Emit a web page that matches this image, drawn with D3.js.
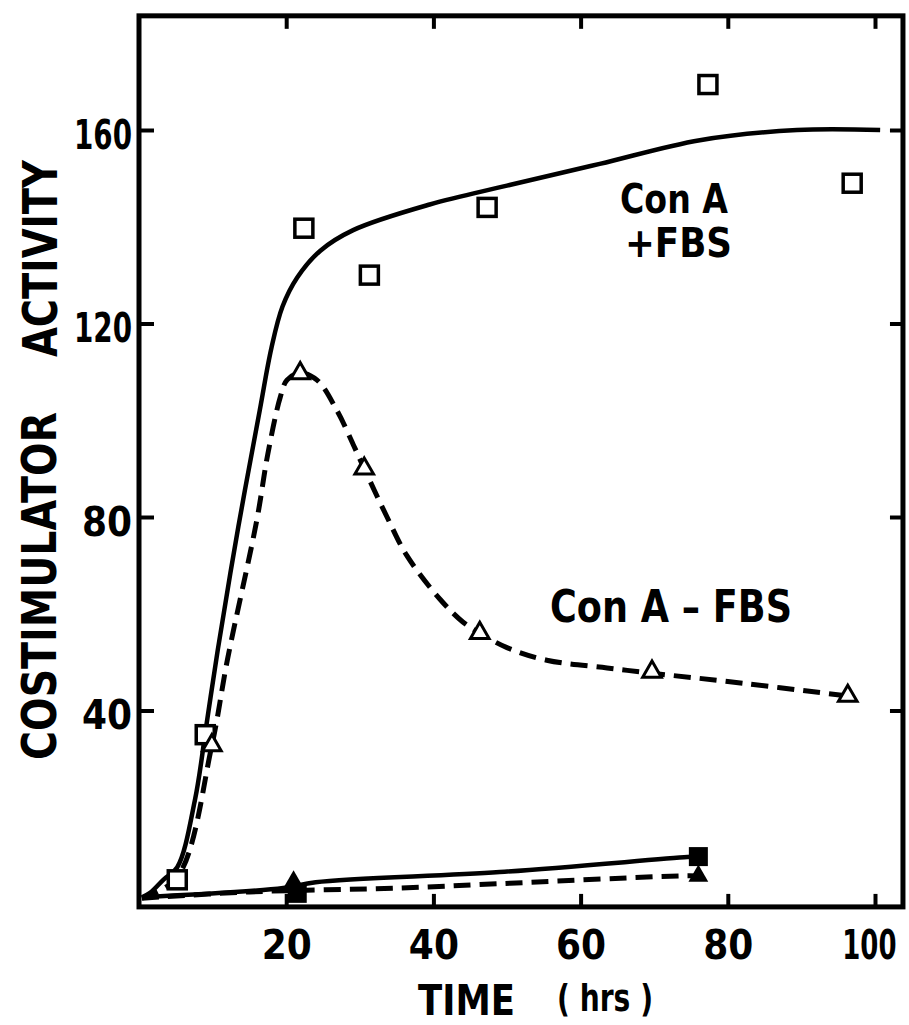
<!DOCTYPE html>
<html>
<head>
<meta charset="utf-8">
<script src="https://cdn.jsdelivr.net/npm/d3@7"></script>
<style>
  html, body { margin: 0; padding: 0; background: #fff; }
  svg { display: block; }
  text { font-family: "DejaVu Sans", "Liberation Sans", sans-serif; fill: #000; }
</style>
</head>
<body>
<svg id="chart" width="909" height="1025"></svg>
<script>
// ---- data ----
const xTicks = [20, 40, 60, 80, 100];
const yTicks = [40, 80, 120, 160];

// Con A + FBS : open squares
const plusFBS_x = [5.2, 9, 22.4, 31.3, 47.3, 77.3, 96.9];
const plusFBS_y = [5, 35, 139.7, 130, 144, 169.4, 149];

// Con A - FBS : open triangles
const minusFBS_x = [9.9, 21.9, 30.6, 46.3, 69.7, 96.3];
const minusFBS_y = [32.8, 109.7, 90, 56, 48, 43];

// controls : filled squares / filled triangles
const ctrlSq_x = [21.5, 76];
const ctrlSq_y = [2.2, 9.8];
const ctrlTri_x = [21, 76];
const ctrlTri_y = [4.6, 5.8];

// hand-drawn fitted curves
const curvePlus_x = [0.4, 1.5, 3.3, 5.2, 7.6, 9.2, 10.7, 13.5, 16.4, 18, 19.5, 21.5, 24.6, 29.1, 39.5, 50, 62.6, 76.2, 89.4, 100.7];
const curvePlus_y = [1.4, 2.3, 5, 7.6, 21.5, 37.4, 52.5, 78, 102, 115, 123.5, 129.5, 135, 139.3, 144.6, 148.5, 153, 157.9, 160, 160];

const curveMinus_x = [0.4, 5.2, 9.9, 12, 16, 17.5, 19.2, 20.1, 21.9, 24.2, 26.9, 29.1, 30.6, 33.7, 36.4, 40.9, 44, 46.3, 50, 55.4, 63.6, 69.7, 80, 96.3];
const curveMinus_y = [1.2, 5.5, 32.8, 50.4, 79.3, 93, 104.8, 108.3, 109.8, 108.3, 102, 95, 90, 80, 72, 63, 58.3, 56, 53, 50.4, 48.8, 47.7, 46, 43];

const ctrlLineSolid_x = [0.4, 19.6, 24, 49, 74.5, 76];
const ctrlLineSolid_y = [1.4, 3.3, 4.5, 6.6, 9.7, 9.8];
const ctrlLineDash_x = [0.4, 15, 35.5, 50.4, 73.5, 76];
const ctrlLineDash_y = [1.2, 2.5, 3.3, 4.3, 5.8, 5.8];

const xLabel = ["TIME", "( hrs )"];
const yLabel = ["COSTIMULATOR", "ACTIVITY"];
const annPlus = ["Con A", "+FBS"];
const annMinus = "Con A – FBS";

// ---- scales ----
const svg = d3.select("#chart");
const x = d3.scaleLinear().domain([0, 100]).range([139, 875]);
const y = d3.scaleLinear().domain([0, 160]).range([904, 130]);
const xMax = 103.8, yMax = 183.6, yMin = -0.6;

const zip = (xs, ys) => xs.map((v, i) => [v, ys[i]]);

// ---- axes (inward ticks) ----
const tickLen = 13;
const gB = svg.append("g").attr("transform", `translate(0,${y(yMin)})`)
  .call(d3.axisBottom(x).tickValues(xTicks).tickSize(-tickLen).tickFormat(d3.format("d")));
gB.selectAll("text")
  .attr("x", 0).attr("y", 0).attr("dy", 0)
  .style("font-size", "40px").style("font-weight", "bold")
  .attr("text-anchor", d => (String(d).length >= 3 ? "end" : "middle"))
  .attr("transform", d => String(d).length >= 3
    ? "translate(21,52) scale(0.65,1)"
    : "translate(0,52) scale(0.9,1)");

const gT = svg.append("g").attr("transform", `translate(0,${y(yMax)})`)
  .call(d3.axisTop(x).tickValues(xTicks).tickSize(-tickLen).tickFormat(""));

const gL = svg.append("g").attr("transform", `translate(${x(0) + 2},0)`)
  .call(d3.axisLeft(y).tickValues(yTicks).tickSize(-tickLen).tickFormat(d3.format("d")));
gL.selectAll("text").attr("x", -9).attr("dy", "0.45em")
  .style("font-size", "40px").style("font-weight", "bold")
  .attr("textLength", d => (String(d).length >= 3 ? 58 : 50)).attr("lengthAdjust", "spacingAndGlyphs");

const gR = svg.append("g").attr("transform", `translate(${x(xMax)},0)`)
  .call(d3.axisRight(y).tickValues(yTicks).tickSize(-tickLen).tickFormat(""));

[gB, gT, gL, gR].forEach(g => {
  g.select(".domain").remove();
  g.selectAll(".tick line").attr("stroke", "#000").attr("stroke-width", 4);
  g.selectAll("text").attr("fill", "#000");
});

// frame
svg.append("rect")
  .attr("x", x(0)).attr("y", y(yMax))
  .attr("width", x(xMax) - x(0)).attr("height", y(yMin) - y(yMax))
  .attr("fill", "none").attr("stroke", "#000").attr("stroke-width", 5);

// ---- lines ----
const line = d3.line().x(d => x(d[0])).y(d => y(d[1])).curve(d3.curveCatmullRom.alpha(0.5));

svg.append("path").datum(zip(curveMinus_x, curveMinus_y)).attr("d", line)
  .attr("fill", "none").attr("stroke", "#000").attr("stroke-width", 5)
  .attr("stroke-dasharray", "17 9");
svg.append("path").datum(zip(curvePlus_x, curvePlus_y)).attr("d", line)
  .attr("fill", "none").attr("stroke", "#000").attr("stroke-width", 4.5);
svg.append("path").datum(zip(ctrlLineDash_x, ctrlLineDash_y)).attr("d", line)
  .attr("fill", "none").attr("stroke", "#000").attr("stroke-width", 5)
  .attr("stroke-dasharray", "17 9");
svg.append("path").datum(zip(ctrlLineSolid_x, ctrlLineSolid_y)).attr("d", line)
  .attr("fill", "none").attr("stroke", "#000").attr("stroke-width", 4.5);

// ---- markers ----
const sq = 18;
svg.append("g").selectAll("rect").data(zip(plusFBS_x, plusFBS_y)).join("rect")
  .attr("x", d => x(d[0]) - sq / 2).attr("y", d => y(d[1]) - sq / 2)
  .attr("width", sq).attr("height", sq)
  .attr("fill", "#fff").attr("stroke", "#000").attr("stroke-width", 3.5);

const triOpen = d3.symbol().type(d3.symbolTriangle).size(150);
svg.append("g").selectAll("path").data(zip(minusFBS_x, minusFBS_y)).join("path")
  .attr("d", triOpen)
  .attr("transform", d => `translate(${x(d[0])},${y(d[1])})`)
  .attr("fill", "#fff").attr("stroke", "#000").attr("stroke-width", 3);

const fsq = 19;
svg.append("g").selectAll("rect").data(zip(ctrlSq_x, ctrlSq_y)).join("rect")
  .attr("x", d => x(d[0]) - fsq / 2).attr("y", d => y(d[1]) - fsq / 2)
  .attr("width", fsq).attr("height", fsq).attr("fill", "#000");

const triFill = d3.symbol().type(d3.symbolTriangle).size(170);
svg.append("g").selectAll("path").data(zip(ctrlTri_x, ctrlTri_y)).join("path")
  .attr("d", triFill)
  .attr("transform", d => `translate(${x(d[0])},${y(d[1])})`)
  .attr("fill", "#000");

// ---- annotations ----
function txt(str, xx, yy, size, len) {
  return svg.append("text").attr("x", xx).attr("y", yy).text(str)
    .style("font-size", size + "px").style("font-weight", "bold")
    .attr("textLength", len).attr("lengthAdjust", "spacingAndGlyphs");
}
txt(annPlus[0], 620, 213, 41, 108);
txt(annPlus[1], 625, 257, 41, 107);
txt(annMinus, 550, 622, 44, 242);

// axis titles
txt(xLabel[0], 418, 1015, 42, 97);
txt(xLabel[1], 557, 1011, 38, 96);

svg.append("text").attr("transform", "translate(56,760) rotate(-90)").text(yLabel[0])
  .style("font-size", "48px").style("font-weight", "bold")
  .attr("textLength", 348).attr("lengthAdjust", "spacingAndGlyphs");
svg.append("text").attr("transform", "translate(57,357) rotate(-90)").text(yLabel[1])
  .style("font-size", "48px").style("font-weight", "bold")
  .attr("textLength", 197).attr("lengthAdjust", "spacingAndGlyphs");
</script>
</body>
</html>
